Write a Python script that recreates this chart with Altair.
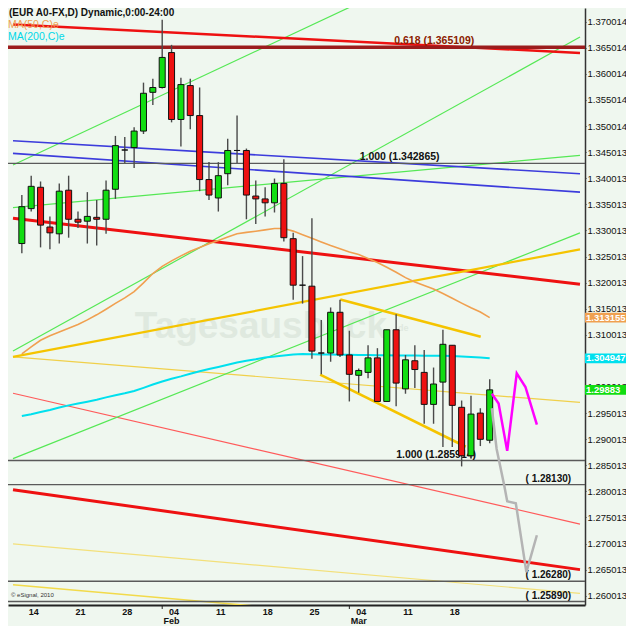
import altair as alt
import pandas as pd

# ---------------- data ----------------
# trading-day index: 0 = Mon 14 Jan 2013, 15 = Mon 04 Feb, 35 = Mon 04 Mar
day_index = list(range(-1, 50))
open_p = [1.32750, 1.33419, 1.33828, 1.33066, 1.32936, 1.33772, 1.33215, 1.33178, 1.33252, 1.33215,
          1.33790, 1.34542, 1.34589, 1.34905, 1.35647, 1.35740, 1.36409, 1.35127, 1.35777, 1.35202,
          1.33976, 1.33623, 1.34088, 1.34533, 1.34533, 1.33660, 1.33605, 1.33530, 1.33902, 1.32843,
          1.31952, 1.31933, 1.30652, 1.30652, 1.31432, 1.30615, 1.30225, 1.30281, 1.30559, 1.29724,
          1.31098, 1.29965, 1.30504, 1.30281, 1.29668, 1.30095, 1.30801, 1.29612, 1.28684, 1.29501,
          1.28981]
high_p = [1.33679, 1.34050, 1.33939, 1.33270, 1.33902, 1.34050, 1.33363, 1.33735, 1.33586, 1.33958,
          1.34812, 1.34793, 1.34979, 1.35833, 1.35907, 1.37040, 1.36557, 1.35926, 1.35907, 1.35740,
          1.34310, 1.34310, 1.34756, 1.35202, 1.34570, 1.33958, 1.33828, 1.33995, 1.34366, 1.32955,
          1.32509, 1.33233, 1.31283, 1.31525, 1.31673, 1.31079, 1.30355, 1.30801, 1.30745, 1.31098,
          1.31395, 1.30615, 1.30801, 1.30708, 1.30374, 1.31098, 1.30801, 1.29742, 1.29835, 1.29594,
          1.30151]
low_p = [1.32565, 1.33363, 1.32676, 1.32639, 1.32750, 1.32862, 1.33048, 1.32750, 1.32713, 1.32936,
         1.33605, 1.34292, 1.34199, 1.34849, 1.35406, 1.35722, 1.35072, 1.34607, 1.34942, 1.33753,
         1.33586, 1.33363, 1.33865, 1.34292, 1.33215, 1.33122, 1.33270, 1.33345, 1.32788, 1.31673,
         1.31599, 1.30541, 1.30244, 1.30485, 1.30578, 1.29724, 1.29891, 1.30169, 1.29724, 1.29724,
         1.29631, 1.29872, 1.29984, 1.29297, 1.29297, 1.28851, 1.28851, 1.28479, 1.28628, 1.28869,
         1.28925]
close_p = [1.33456, 1.33846, 1.33103, 1.32955, 1.33753, 1.33215, 1.33159, 1.33270, 1.33215, 1.33772,
           1.34626, 1.34542, 1.34905, 1.35629, 1.35740, 1.36316, 1.35127, 1.35796, 1.35202, 1.33976,
           1.33679, 1.34050, 1.34533, 1.34533, 1.33679, 1.33605, 1.33530, 1.33902, 1.32862, 1.31952,
           1.31952, 1.30689, 1.30652, 1.31432, 1.30615, 1.30244, 1.30318, 1.30559, 1.29724, 1.31098,
           1.30076, 1.30522, 1.30336, 1.29668, 1.30058, 1.30819, 1.29649, 1.28684, 1.29482, 1.28999,
           1.29946]
ma50 = [1.30634, 1.30769, 1.30897, 1.30984, 1.31055, 1.31126, 1.31198, 1.31287, 1.31384, 1.31491,
        1.31603, 1.31709, 1.31829, 1.31995, 1.32175, 1.32312, 1.32418, 1.32513, 1.32602, 1.32676,
        1.32747, 1.32808, 1.32875, 1.32938, 1.32964, 1.32986, 1.33012, 1.33038, 1.33038, 1.32988,
        1.32920, 1.32849, 1.32780, 1.32711, 1.32650, 1.32587, 1.32539, 1.32464, 1.32388, 1.32296,
        1.32201, 1.32097, 1.32015, 1.31946, 1.31878, 1.31794, 1.31701, 1.31608, 1.31519, 1.31438,
        1.31330]
ma200 = [1.29445, 1.29480, 1.29521, 1.29560, 1.29607, 1.29649, 1.29686, 1.29720, 1.29757, 1.29802,
         1.29844, 1.29881, 1.29924, 1.29985, 1.30050, 1.30106, 1.30158, 1.30204, 1.30255, 1.30303,
         1.30346, 1.30385, 1.30427, 1.30470, 1.30502, 1.30531, 1.30565, 1.30587, 1.30604, 1.30622,
         1.30634, 1.30630, 1.30626, 1.30622, 1.30619, 1.30617, 1.30615, 1.30613, 1.30611, 1.30609,
         1.30607, 1.30606, 1.30604, 1.30602, 1.30600, 1.30598, 1.30595, 1.30585, 1.30576, 1.30567,
         1.30550]

tick_idx = [0, 5, 10, 15, 20, 25, 30, 35, 40, 45]
tick_day = ["14", "21", "28", "04", "11", "18", "25", "04", "11", "18"]
month_label_idx = [15, 35]
month_labels = ["Feb", "Mar"]
month_start_idx = [14, 34]

# 1.305013 sits completely under the MA(200) value box in the reference, so it is not listed
price_ticks = [1.260013, 1.265013, 1.270013, 1.275013, 1.280013, 1.285013, 1.290013, 1.295013,
               1.300013, 1.310013, 1.315013, 1.320013, 1.325013, 1.330013, 1.335013,
               1.340013, 1.345013, 1.350014, 1.355014, 1.360014, 1.365014, 1.370014]

# trend lines: (start index, start price) -> (end index, end price)
trend_names = ["Y6", "Y5", "R4", "R3", "Y4", "G4", "G3", "G2", "G1", "B1", "B2", "R2", "R1", "Y1", "Y2", "Y3"]
trend_i0 = [-1.945, -1.945, -1.945, -1.945, -1.945, -1.945, -1.945, -1.945, -1.945, -1.945, -1.945, -1.945, -1.945, -1.945, 33.03, 30.88]
trend_p0 = [1.26214, 1.26994, 1.28034, 1.29881, 1.30578, 1.28628, 1.30689, 1.33438, 1.34255, 1.34719, 1.34478, 1.33233, 1.36947, 1.30578, 1.31679, 1.30238]
trend_i1 = [26.2, 58.65, 58.65, 58.65, 58.65, 58.65, 58.65, 58.65, 58.65, 58.65, 58.65, 58.65, 58.65, 58.65, 48.04, 46.44]
trend_p1 = [1.25768, 1.26047, 1.26502, 1.27374, 1.29705, 1.32955, 1.36706, 1.34440, 1.39345, 1.34088, 1.33735, 1.31971, 1.36403, 1.32639, 1.30962, 1.28856]

level_values = [1.365109, 1.342865, 1.285914, 1.28130, 1.26280, 1.25890]
level_texts = ["0.618  (1.365109)", "1.000  (1.342865)", "1.000  (1.285914)", "( 1.28130)", "( 1.26280)", "( 1.25890)"]
level_text_idx = [38.8, 35.1, 39.0, 57.7, 57.7, 57.7]

magenta_i = [49.23, 49.95, 50.87, 51.89, 52.82, 54.04]
magenta_p = [1.29872, 1.29686, 1.28777, 1.30262, 1.30002, 1.29278]
gray_i = [49.23, 49.74, 50.56, 50.87, 51.79, 52.92, 54.04]
gray_p = [1.29594, 1.28814, 1.28108, 1.27811, 1.27774, 1.26455, 1.27161]

last_value_texts = ["1.313155", "1.304947", "1.29883"]

# ---------------- styles / layout ----------------
BG = "#eff7ef"
UP, DOWN, FLAT = "#11dd11", "#ee1111", "#000000"
trend_style = {
    "Y6": ("#f2da4a", 1.5), "Y5": ("#f3e07a", 1.2), "R4": ("#ee1111", 3.0), "R3": ("#ff5a5a", 1.2),
    "Y4": ("#f0d04a", 1.2), "G4": ("#55e855", 1.2), "G3": ("#55e855", 1.2), "G2": ("#55e855", 1.2),
    "G1": ("#55e855", 1.2), "B1": ("#3c3cdc", 1.6), "B2": ("#3c3cdc", 1.6), "R2": ("#ee1111", 3.0),
    "R1": ("#ee1111", 2.5), "Y1": ("#f5c400", 2.2), "Y2": ("#f5c400", 2.6), "Y3": ("#f5c400", 2.6),
}
FONT = "Liberation Sans"
W, H = 577, 597          # plot area
PAD_R, PAD_B = 41, 21    # price axis / date axis room
KX, KY = W / 592.0, H / 616.0


def px(v):
    return round(v * KX, 1)


def py(v):
    return round(v * KY, 1)


x_scale = alt.Scale(domain=[-1.945, 58.65], nice=False, zero=False)
y_scale = alt.Scale(domain=[1.25824, 1.37263], nice=False, zero=False)

label_lookup = "{" + ", ".join(f"'{v}': '{d}'" for v, d in zip(tick_idx, tick_day)) + "}"
x_axis = alt.Axis(values=tick_idx, labelExpr=f"{label_lookup}[''+datum.value]", tickSize=0,
                  domainColor="#222", domainWidth=2, labelFont=FONT, labelFontWeight="bold",
                  labelFontSize=9, labelColor="#111", labelPadding=2, labelOffset=2,
                  labelFlush=False, labelOverlap=False, grid=False, title=None)
y_axis = alt.Axis(orient="right", values=price_ticks, format=".6f", tickSize=1, tickColor="#333",
                  domainColor="#333", domainWidth=1.5, labelFont=FONT, labelFontSize=9.5,
                  labelColor="#111", labelPadding=1, labelOverlap=False, labelFlush=False,
                  grid=False, title=None)


def X(field="i"):
    return alt.X(f"{field}:Q", scale=x_scale, axis=x_axis)


def Y(field="p"):
    return alt.Y(f"{field}:Q", scale=y_scale, axis=y_axis)


one = pd.DataFrame({"k": [0]})
layers = []

# watermark
layers.append(alt.Chart(one).mark_text(text="Tagesausblick", font=FONT, fontSize=37, fontWeight="bold",
                                       color="#dfe9df", align="left", baseline="alphabetic")
              .encode(x=alt.value(px(130)), y=alt.value(py(340))))
layers.append(alt.Chart(one).mark_text(text="de", font=FONT, fontSize=9, fontWeight="bold",
                                       color="#dfe9df", align="left")
              .encode(x=alt.value(px(400)), y=alt.value(py(330))))

# trend lines
for n, i0, p0, i1, p1 in zip(trend_names, trend_i0, trend_p0, trend_i1, trend_p1):
    col, w = trend_style[n]
    df = pd.DataFrame({"i": [i0, i1], "p": [p0, p1]})
    layers.append(alt.Chart(df).mark_line(color=col, strokeWidth=w, clip=True).encode(x=X(), y=Y()))

# horizontal levels
lv = pd.DataFrame({"p": level_values, "t": level_texts, "i": level_text_idx})
layers.append(alt.Chart(lv.iloc[[0]]).mark_rule(color="#9b1c1c", strokeWidth=3.5).encode(y=Y()))
layers.append(alt.Chart(lv.iloc[1:]).mark_rule(color="#5a5a5a", strokeWidth=1.4).encode(y=Y()))
layers.append(alt.Chart(lv.iloc[[0]]).mark_text(color="#8b2000", font=FONT, fontSize=10.5, fontWeight="bold",
                                                 align="left", baseline="bottom", dy=-1)
              .encode(x=X(), y=Y(), text="t:N"))
layers.append(alt.Chart(lv.iloc[1:3]).mark_text(color="#111", font=FONT, fontSize=10.5, fontWeight="bold",
                                                 align="left", baseline="bottom", dy=-1)
              .encode(x=X(), y=Y(), text="t:N"))
layers.append(alt.Chart(lv.iloc[3:]).mark_text(color="#111", font=FONT, fontSize=10, fontWeight="bold",
                                                align="right", baseline="bottom", dy=-1)
              .encode(x=X(), y=Y(), text="t:N"))

# moving averages
ma = pd.DataFrame({"i": day_index, "ma50": ma50, "ma200": ma200})
layers.append(alt.Chart(ma).mark_line(color="#00e0ee", strokeWidth=2, clip=True).encode(x=X(), y=Y("ma200")))
layers.append(alt.Chart(ma).mark_line(color="#f0a050", strokeWidth=1.6, clip=True).encode(x=X(), y=Y("ma50")))

# candles
cd = pd.DataFrame({"i": day_index, "open": open_p, "high": high_p, "low": low_p, "close": close_p})
cd["dir"] = ["up" if c > o else ("down" if c < o else "flat") for o, c in zip(open_p, close_p)]
layers.append(alt.Chart(cd).mark_rule(color="#4a4a4a", strokeWidth=1.4, clip=True).encode(
    x=X(), y=Y("low"), y2="high:Q"))
layers.append(alt.Chart(cd).mark_bar(size=6, stroke="#111", strokeWidth=1, clip=True).encode(
    x=X(), y=Y("open"), y2="close:Q",
    fill=alt.Fill("dir:N", scale=alt.Scale(domain=["up", "down", "flat"], range=[UP, DOWN, FLAT]), legend=None)))

# month boundary ticks and month names under the axis
mt = pd.DataFrame({"i": month_start_idx})
layers.append(alt.Chart(mt).mark_rule(color="#222", strokeWidth=1).encode(
    x=X(), y=alt.value(H), y2=alt.value(H + 4)))
ml = pd.DataFrame({"i": month_label_idx, "t": month_labels})
layers.append(alt.Chart(ml).mark_text(font=FONT, fontSize=9, fontWeight="bold", color="#111",
                                      baseline="top")
              .encode(x=X(), y=alt.value(H + 11.5), text="t:N"))

# forecast paths
layers.append(alt.Chart(pd.DataFrame({"i": gray_i, "p": gray_p})).mark_line(color="#b4b4b4", strokeWidth=2.5, clip=True)
              .encode(x=X(), y=Y()))
layers.append(alt.Chart(pd.DataFrame({"i": magenta_i, "p": magenta_p})).mark_line(color="#ff00ff", strokeWidth=2.5, clip=True)
              .encode(x=X(), y=Y()))

# last value boxes on the price axis
box_shape = "M-1,-0.24H1V0.24H-1Z"
last_vals = [ma50[-1], ma200[-1], close_p[-1]]
box_cols = ["#f0a050", "#00e0ee", "#11dd11"]
half = PAD_R / 2.0
for v, t, c in zip(last_vals, last_value_texts, box_cols):
    d = pd.DataFrame({"p": [v], "t": [t]})
    layers.append(alt.Chart(d).mark_point(shape=box_shape, size=(2 * half) ** 2, filled=True, opacity=1,
                                          strokeWidth=0, color=c)
                  .encode(x=alt.value(W + half), y=Y()))
    layers.append(alt.Chart(d).mark_text(color="white", font=FONT, fontSize=9.5, fontWeight="bold",
                                         align="left")
                  .encode(x=alt.value(W + 1), y=Y(), text="t:N"))

# header texts
layers.append(alt.Chart(one).mark_text(text="(EUR A0-FX,D) Dynamic,0:00-24:00", font=FONT, fontSize=10,
                                       fontWeight="bold", color="#111", align="left", baseline="top")
              .encode(x=alt.value(1), y=alt.value(0)))
layers.append(alt.Chart(one).mark_text(text="MA(50,C)e", font=FONT, fontSize=10.5, color="#f0a050",
                                       align="left", baseline="top")
              .encode(x=alt.value(0), y=alt.value(py(12))))
layers.append(alt.Chart(one).mark_text(text="MA(200,C)e", font=FONT, fontSize=10.5, color="#00d8e8",
                                       align="left", baseline="top")
              .encode(x=alt.value(0), y=alt.value(py(25))))
layers.append(alt.Chart(one).mark_text(text="© eSignal, 2010", font=FONT, fontSize=6, color="#333",
                                       align="left", baseline="middle")
              .encode(x=alt.value(3), y=alt.value(py(606))))

chart = alt.layer(*layers).properties(
    width=W, height=H,
    padding={"left": 0, "top": 0, "right": PAD_R, "bottom": PAD_B},
    autosize=alt.AutoSizeParams(type="none"),
    background=BG,
).configure_view(stroke=None)

chart.save("out.html", embed_options={"renderer": "svg", "actions": False})
